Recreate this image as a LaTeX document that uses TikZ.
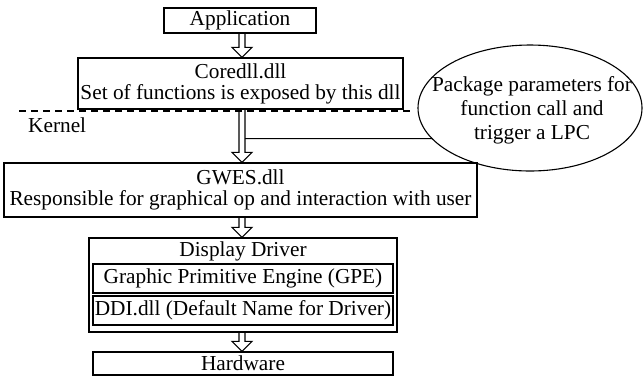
\documentclass[tikz,border=0pt]{standalone}
\usepackage{fontspec}
\setmainfont{Liberation Serif}
\usetikzlibrary{shapes.geometric,calc,intersections}
\newcommand{\hollowarrow}[2]{%
  \path (ax |- #1.south) coordinate (hs) (ax |- #2.north) coordinate (he);
  \draw[arrowline] ($(hs)+(-3,0)$) -- ($(he)+(-3,-10)$) -- ($(he)+(-10,-10)$) -- (he)
     -- ($(he)+(10,-10)$) -- ($(he)+(3,-10)$) -- ($(hs)+(3,0)$);}
\begin{document}
\begin{tikzpicture}[x=1pt,y=-1pt,
  every node/.style={font=\fontsize{21.3}{21}\selectfont, inner sep=0pt},
  box/.style={draw, line width=1.2pt, align=center},
  arrowline/.style={line width=1.1pt, line join=miter},
  kerneldash/.style={line width=1.1pt, dash pattern=on 7pt off 5pt},
  bubble/.style={ellipse, draw, line width=1.1pt},
]
\useasboundingbox (0,0) rectangle (644,376);
\coordinate (ax) at (242,0);
% boxes
\node[box, minimum width=152pt, minimum height=25pt] (app) at (240,20.5) {Application};
\node[box, minimum width=325pt, minimum height=51pt] (core) at (240.5,83.5) {Coredll.dll\\Set of functions is exposed by this dll};
\node[box, minimum width=473pt, minimum height=54pt] (gwes) at (240.5,190) {GWES.dll\\Responsible for graphical op and interaction with user};
\node[box, minimum width=308pt, minimum height=94pt] (disp) at (243,285) {};
\node[anchor=base] (dtitle) at (243,256) {Display Driver};
\node[box, minimum width=300pt, minimum height=29pt] (gpe) at (243,278.5) {Graphic Primitive Engine (GPE)};
\node[box, minimum width=300pt, minimum height=29pt] (ddi) at (243,310.5) {DDI.dll (Default Name for Driver)};
\node[box, minimum width=300pt, minimum height=23pt] (hw) at (243,363.5) {Hardware};
% ellipse
\node[bubble, minimum width=224pt, minimum height=126pt, name path=ep] (ell) at (530,108) {};
\node[align=center, font=\fontsize{21.3}{24}\selectfont] (etext) at (532,110) {Package parameters for\\function call and\\trigger a LPC};
% kernel boundary
\coordinate (dl) at (19,111);
\coordinate (dr) at (413,111);
\draw[kerneldash] (dl) -- (dr);
\node[anchor=base west] (kernel) at (28,132) {Kernel};
% arrows
\hollowarrow{app}{core}
\path (ax |- core.south) coordinate (s2) (ax |- gwes.north) coordinate (e2);
\draw[arrowline] ($(s2)+(-3,0)$) -- ($(e2)+(-3,-10)$) -- ($(e2)+(-10,-10)$) -- (e2)
   -- ($(e2)+(10,-10)$) -- ($(e2)+(3,-10)$) -- ($(s2)+(3,0)$);
\coordinate (br) at ($(s2)+(3,29)$);
\path[name path=hl] (br) -- +(300,0);
\draw[arrowline, name intersections={of=ep and hl, by=hx}] (br) -- (hx);
\hollowarrow{gwes}{disp}
\hollowarrow{disp}{hw}
\end{tikzpicture}
\end{document}
